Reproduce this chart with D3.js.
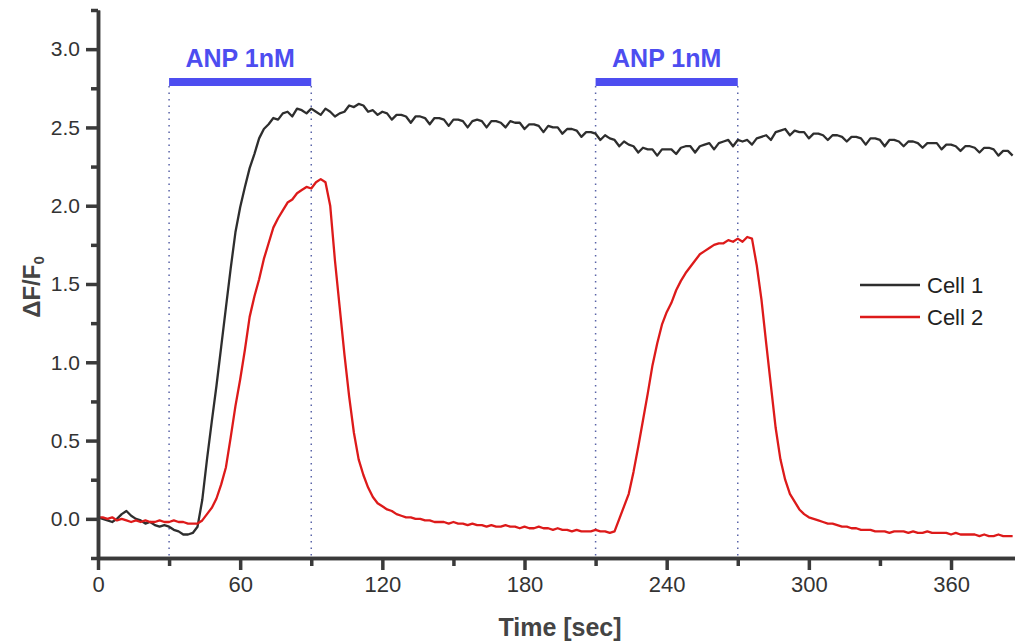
<!DOCTYPE html>
<html>
<head>
<meta charset="utf-8">
<script src="https://cdn.jsdelivr.net/npm/d3@7"></script>
<style>
  html, body { margin: 0; padding: 0; background: #fff; }
  svg { display: block; font-family: "Liberation Sans", Arial, sans-serif; }
</style>
</head>
<body>
<svg id="chart" width="1015" height="641"></svg>
<script>
// ---------- data ----------
const sampleInterval = 2; // seconds between samples
const seriesNames = ["Cell 1", "Cell 2"];
const seriesColors = ["#2e2e2e", "#dd1a1a"];

const cell1 = [
  0.01, 0.00, -0.01, -0.02, 0.00, 0.03, 0.05, 0.02, 0.00, -0.01,
  -0.03, -0.02, -0.04, -0.05, -0.04, -0.05, -0.07, -0.08, -0.10, -0.10,
  -0.09, -0.05, 0.12, 0.38, 0.62, 0.85, 1.10, 1.35, 1.60, 1.83,
  1.99, 2.12, 2.24, 2.33, 2.43, 2.49, 2.52, 2.56, 2.55, 2.59,
  2.60, 2.57, 2.62, 2.61, 2.59, 2.62, 2.60, 2.58, 2.62, 2.60,
  2.57, 2.59, 2.60, 2.64, 2.63, 2.65, 2.64, 2.60, 2.61, 2.58,
  2.60, 2.59, 2.55, 2.58, 2.58, 2.57, 2.53, 2.57, 2.57, 2.56,
  2.52, 2.56, 2.56, 2.55, 2.51, 2.55, 2.55, 2.54, 2.50, 2.54,
  2.55, 2.54, 2.50, 2.54, 2.54, 2.53, 2.50, 2.54, 2.53, 2.53,
  2.49, 2.52, 2.52, 2.51, 2.47, 2.51, 2.50, 2.50, 2.46, 2.49,
  2.49, 2.48, 2.44, 2.47, 2.47, 2.46, 2.42, 2.45, 2.43, 2.42,
  2.38, 2.41, 2.39, 2.38, 2.34, 2.37, 2.36, 2.36, 2.32, 2.36,
  2.36, 2.36, 2.33, 2.37, 2.38, 2.38, 2.34, 2.38, 2.39, 2.40,
  2.36, 2.40, 2.41, 2.42, 2.38, 2.42, 2.41, 2.42, 2.39, 2.43,
  2.44, 2.45, 2.42, 2.47, 2.48, 2.49, 2.45, 2.48, 2.47, 2.47,
  2.43, 2.46, 2.46, 2.45, 2.42, 2.45, 2.45, 2.44, 2.41, 2.44,
  2.44, 2.43, 2.39, 2.43, 2.43, 2.42, 2.38, 2.42, 2.42, 2.41,
  2.38, 2.41, 2.41, 2.40, 2.37, 2.40, 2.40, 2.40, 2.36, 2.39,
  2.39, 2.38, 2.35, 2.38, 2.38, 2.37, 2.34, 2.37, 2.37, 2.36,
  2.32, 2.35, 2.35, 2.32
];

const cell2 = [
  0.01, 0.01, 0.00, 0.01, -0.01, 0.00, -0.01, -0.02, -0.01, -0.02,
  -0.01, -0.02, -0.02, -0.01, -0.02, -0.02, -0.01, -0.02, -0.02, -0.03,
  -0.03, -0.03, -0.01, 0.03, 0.07, 0.13, 0.22, 0.33, 0.52, 0.72,
  0.89, 1.08, 1.29, 1.42, 1.53, 1.66, 1.76, 1.86, 1.92, 1.97,
  2.02, 2.04, 2.08, 2.10, 2.12, 2.11, 2.15, 2.17, 2.15, 2.00,
  1.65, 1.35, 1.05, 0.78, 0.55, 0.38, 0.28, 0.20, 0.14, 0.10,
  0.08, 0.06, 0.05, 0.03, 0.02, 0.01, 0.01, 0.00, 0.00, -0.01,
  -0.01, -0.02, -0.02, -0.02, -0.03, -0.02, -0.03, -0.03, -0.04, -0.03,
  -0.04, -0.04, -0.05, -0.04, -0.05, -0.05, -0.04, -0.05, -0.05, -0.06,
  -0.05, -0.06, -0.06, -0.05, -0.06, -0.06, -0.07, -0.06, -0.07, -0.07,
  -0.08, -0.07, -0.08, -0.08, -0.08, -0.07, -0.08, -0.08, -0.09, -0.08,
  0.00, 0.08, 0.16, 0.30, 0.46, 0.63, 0.80, 0.98, 1.12, 1.24,
  1.32, 1.38, 1.46, 1.52, 1.57, 1.61, 1.65, 1.69, 1.71, 1.73,
  1.75, 1.76, 1.76, 1.78, 1.77, 1.79, 1.77, 1.80, 1.79, 1.62,
  1.40, 1.12, 0.85, 0.58, 0.38, 0.25, 0.16, 0.11, 0.06, 0.03,
  0.01, 0.00, -0.01, -0.02, -0.03, -0.03, -0.04, -0.05, -0.05, -0.06,
  -0.06, -0.07, -0.07, -0.07, -0.08, -0.08, -0.08, -0.09, -0.08, -0.08,
  -0.08, -0.09, -0.08, -0.09, -0.09, -0.08, -0.09, -0.09, -0.09, -0.09,
  -0.10, -0.09, -0.10, -0.10, -0.10, -0.10, -0.11, -0.10, -0.11, -0.11,
  -0.10, -0.11, -0.11, -0.11
];

const xMajorTicks = [0, 60, 120, 180, 240, 300, 360];
const xMinorTicks = [30, 90, 150, 210, 270, 330];
const yMajorTicks = [0.0, 0.5, 1.0, 1.5, 2.0, 2.5, 3.0];
const yMinorTicks = [-0.25, 0.25, 0.75, 1.25, 1.75, 2.25, 2.75, 3.25];
const xDomain = [0, 387];
const yDomain = [-0.25, 3.25];

const stimuli = [ { label: "ANP 1nM", start: 30, end: 90 }, { label: "ANP 1nM", start: 210, end: 270 } ];

// ---------- chart ----------
const svg = d3.select("#chart");
const x = d3.scaleLinear().domain(xDomain).range([98, 1015]);
const y = d3.scaleLinear().domain(yDomain).range([558, 10]);
const axisColor = "#3a3a3a";
const textColor = "#333333";

// stimulus dotted lines
stimuli.forEach(s => {
  [s.start, s.end].forEach(t => {
    svg.append("line")
      .attr("x1", x(t)).attr("x2", x(t))
      .attr("y1", 86).attr("y2", y(yDomain[0]))
      .attr("stroke", "#5a64a8").attr("stroke-width", 1.5)
      .attr("stroke-dasharray", "1.5,5");
  });
  svg.append("rect")
    .attr("x", x(s.start)).attr("width", x(s.end) - x(s.start))
    .attr("y", 78).attr("height", 8)
    .attr("fill", "#4d4df0");
  svg.append("text")
    .attr("x", (x(s.start) + x(s.end)) / 2).attr("y", 67)
    .attr("text-anchor", "middle")
    .attr("font-size", 25).attr("font-weight", "bold")
    .attr("fill", "#4d4df0")
    .text(s.label);
});

// series lines
const line = d3.line()
  .x((d, i) => x(i * sampleInterval))
  .y(d => y(d));
[cell1, cell2].forEach((vals, k) => {
  svg.append("path")
    .datum(vals)
    .attr("d", line)
    .attr("fill", "none")
    .attr("stroke", seriesColors[k])
    .attr("stroke-width", 2.3)
    .attr("stroke-linejoin", "round");
});

// axes
function styleAxis(g) {
  g.select(".domain").attr("stroke", axisColor).attr("stroke-width", 3.5);
  g.selectAll(".tick line").attr("stroke", axisColor).attr("stroke-width", 3.5);
  g.selectAll(".tick text").attr("fill", textColor)
    .attr("font-family", "'Liberation Sans', Arial, sans-serif");
}

const xAxisMinor = svg.append("g").attr("transform", `translate(0,${y(yDomain[0])})`)
  .call(d3.axisBottom(x).tickValues(xMinorTicks).tickSize(8).tickSizeOuter(0).tickFormat(""));
styleAxis(xAxisMinor);
const xAxis = svg.append("g").attr("transform", `translate(0,${y(yDomain[0])})`)
  .call(d3.axisBottom(x).tickValues(xMajorTicks).tickSize(12).tickSizeOuter(0).tickPadding(6).tickFormat(d3.format("d")));
styleAxis(xAxis);
xAxis.selectAll(".tick text").attr("font-size", 22);

const yAxisMinor = svg.append("g").attr("transform", `translate(${x(0)},0)`)
  .call(d3.axisLeft(y).tickValues(yMinorTicks).tickSize(7).tickSizeOuter(0).tickFormat(""));
styleAxis(yAxisMinor);
const yAxis = svg.append("g").attr("transform", `translate(${x(0)},0)`)
  .call(d3.axisLeft(y).tickValues(yMajorTicks).tickSize(12).tickSizeOuter(0).tickPadding(6).tickFormat(d3.format(".1f")));
styleAxis(yAxis);
yAxis.selectAll(".tick text").attr("font-size", 21);

// axis titles
svg.append("text")
  .attr("x", 560).attr("y", 636)
  .attr("text-anchor", "middle")
  .attr("font-size", 25).attr("font-weight", "bold").attr("fill", "#444")
  .text("Time [sec]");

const yt = svg.append("text")
  .attr("transform", "translate(40,287) rotate(-90)")
  .attr("text-anchor", "middle")
  .attr("font-size", 24).attr("font-weight", "bold").attr("fill", "#444");
yt.append("tspan").text("ΔF/F");
yt.append("tspan").attr("font-size", 15).attr("dy", 4).text("0");

// legend
seriesNames.forEach((name, k) => {
  const ly = 285 + k * 32;
  svg.append("line")
    .attr("x1", 860).attr("x2", 920).attr("y1", ly).attr("y2", ly)
    .attr("stroke", seriesColors[k]).attr("stroke-width", 2.3);
  svg.append("text")
    .attr("x", 927).attr("y", ly + 8)
    .attr("font-size", 22).attr("fill", "#222")
    .text(name);
});
</script>
</body>
</html>
